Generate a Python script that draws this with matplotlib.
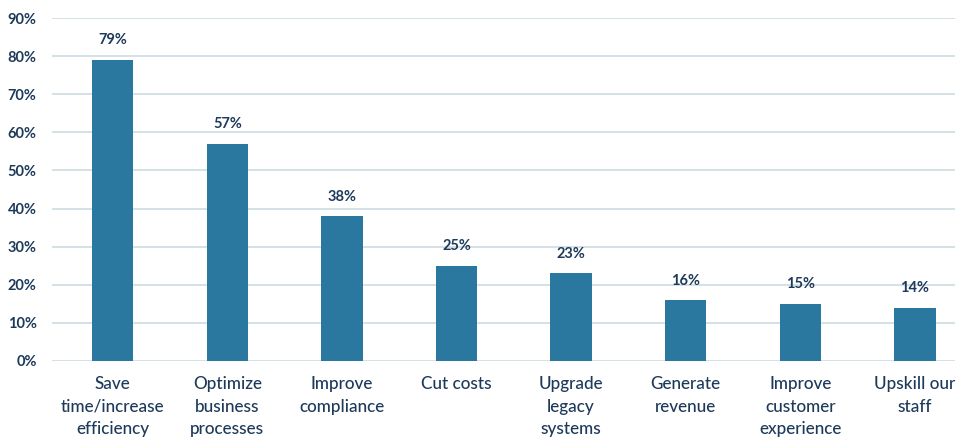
import numpy as np
import matplotlib.pyplot as plt
from matplotlib.ticker import FuncFormatter

categories = [
    "Save\ntime/increase\nefficiency",
    "Optimize\nbusiness\nprocesses",
    "Improve\ncompliance",
    "Cut costs",
    "Upgrade\nlegacy\nsystems",
    "Generate\nrevenue",
    "Improve\ncustomer\nexperience",
    "Upskill our\nstaff",
]
values = [79, 57, 38, 25, 23, 16, 15, 14]
y_ticks = [0, 10, 20, 30, 40, 50, 60, 70, 80, 90]

bar_color = "#2a77a0"
text_color = "#1d3a5a"
grid_color = "#d3e1e5"

plt.rcParams["font.family"] = ["Lato", "DejaVu Sans"]

fig = plt.figure(figsize=(9.64, 4.38), dpi=100)
ax = fig.add_axes([52 / 964, 77 / 438, (955 - 52) / 964, (361 - 18) / 438])

x = np.arange(len(categories))
bars = ax.bar(x, values, width=0.36, color=bar_color, zorder=3)

for b, v in zip(bars, values):
    ax.annotate(f"{v}%", (b.get_x() + b.get_width() / 2, v),
                xytext=(0, 9), textcoords="offset points",
                ha="center", va="bottom", fontsize=10.5, fontweight="bold",
                color=text_color)

ax.set_ylim(0, 90)
ax.set_xlim(-0.53, 7.35)
ax.set_yticks(y_ticks)
ax.yaxis.set_major_formatter(FuncFormatter(lambda v, p: f"{v:.0f}%"))
ax.set_xticks(x)
ax.set_xticklabels(categories, fontsize=12.3, color=text_color,
                   linespacing=1.5, fontweight="medium")

for lbl in ax.get_yticklabels():
    lbl.set_fontweight("bold")
    lbl.set_color(text_color)
    lbl.set_fontsize(10.5)

ax.tick_params(axis="y", length=0, pad=11)
ax.tick_params(axis="x", length=0, pad=11)
ax.grid(axis="y", color=grid_color, linewidth=1.4, zorder=0)
for s in ax.spines.values():
    s.set_visible(False)

fig.savefig("out.png", dpi=100)
